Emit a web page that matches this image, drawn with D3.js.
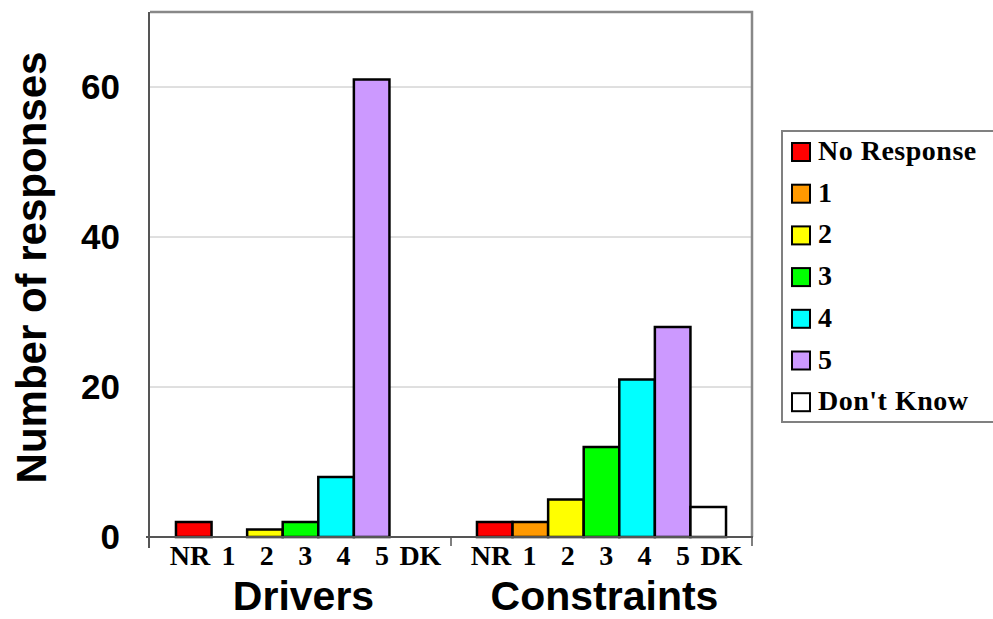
<!DOCTYPE html>
<html>
<head>
<meta charset="utf-8">
<script src="https://cdn.jsdelivr.net/npm/d3@7"></script>
<style>
  html, body { margin: 0; padding: 0; background: #fff; }
  svg { display: block; }
</style>
</head>
<body>
<svg id="chart" width="993" height="619"></svg>
<script>
// ---- data ----
const groups = ["Drivers", "Constraints"];
const categories = ["No Response", "1", "2", "3", "4", "5", "Don't Know"];
const tickLabels = ["NR", "1", "2", "3", "4", "5", "DK"];
const driversValues = [2, 0, 1, 2, 8, 61, 0];
const constraintsValues = [2, 2, 5, 12, 21, 28, 4];
const colors = ["#ff0000", "#ff9900", "#ffff00", "#00ff00", "#00ffff", "#cc99ff", "#ffffff"];
const yTicks = [0, 20, 40, 60];
const yMax = 70;
const yTitle = "Number of responses";

const seriesByGroup = { "Drivers": driversValues, "Constraints": constraintsValues };

// ---- layout ----
const svg = d3.select("#chart");
const plot = { left: 150, right: 752, top: 12, bottom: 537 };
const serif = "'Liberation Serif', 'Times New Roman', serif";
const sans = "'Liberation Sans', Arial, Helvetica, sans-serif";

const y = d3.scaleLinear().domain([0, yMax]).range([plot.bottom, plot.top]);
const x0 = d3.scaleBand().domain(groups).range([plot.left, plot.right]).paddingInner(0).paddingOuter(0);
const x1 = d3.scaleBand().domain(tickLabels).range([0, x0.bandwidth()]).paddingInner(0).paddingOuter(0.73);
const labelSlot = d3.scaleLinear().domain([0, 6]).range([40, 40 + 6 * 38.4]);

// gridlines
svg.append("g")
  .selectAll("line")
  .data(yTicks.filter(t => t > 0))
  .join("line")
  .attr("x1", plot.left).attr("x2", plot.right)
  .attr("y1", d => y(d)).attr("y2", d => y(d))
  .attr("stroke", "#c0c0c0").attr("stroke-width", 1);

// frame top and right
svg.append("path")
  .attr("d", `M${plot.left},${plot.top}H${plot.right}V${plot.bottom}`)
  .attr("fill", "none").attr("stroke", "#888").attr("stroke-width", 2.5);

// bars
groups.forEach(g => {
  const vals = seriesByGroup[g];
  const data = vals.map((v, i) => ({ v, i, key: tickLabels[i] })).filter(d => d.v > 0);
  svg.append("g")
    .attr("transform", `translate(${x0(g)},0)`)
    .selectAll("rect")
    .data(data)
    .join("rect")
    .attr("x", d => x1(d.key))
    .attr("width", x1.bandwidth())
    .attr("y", d => y(d.v))
    .attr("height", d => y(0) - y(d.v))
    .attr("fill", d => colors[d.i])
    .attr("stroke", "#000")
    .attr("stroke-width", 2.5);
});

// y axis line
svg.append("line")
  .attr("x1", plot.left - 1).attr("x2", plot.left - 1)
  .attr("y1", plot.top).attr("y2", plot.bottom + 11)
  .attr("stroke", "#555").attr("stroke-width", 2);

// x axis line + ticks
svg.append("line")
  .attr("x1", plot.left - 4).attr("x2", plot.right + 1)
  .attr("y1", plot.bottom).attr("y2", plot.bottom)
  .attr("stroke", "#555").attr("stroke-width", 2);
const boundaries = groups.map(g => x0(g)).concat([plot.right]);
svg.append("g").selectAll("line")
  .data(boundaries.slice(1))
  .join("line")
  .attr("x1", d => d).attr("x2", d => d)
  .attr("y1", plot.bottom).attr("y2", plot.bottom + 9)
  .attr("stroke", "#555").attr("stroke-width", 1.5);

// y tick labels
svg.append("g").selectAll("text")
  .data(yTicks)
  .join("text")
  .attr("x", 120)
  .attr("y", d => y(d) + 12)
  .attr("text-anchor", "end")
  .attr("font-family", sans)
  .attr("font-weight", "bold")
  .attr("font-size", 35)
  .text(d => d);

// y title
svg.append("text")
  .attr("transform", `translate(46,${(48 + 487) / 2}) rotate(-90)`)
  .attr("text-anchor", "middle")
  .attr("font-family", sans)
  .attr("font-weight", "bold")
  .attr("font-size", 42)
  .text(yTitle);

// x category labels
groups.forEach(g => {
  svg.append("g").selectAll("text")
    .data(tickLabels)
    .join("text")
    .attr("x", (d, i) => x0(g) + labelSlot(i))
    .attr("y", 565)
    .attr("text-anchor", "middle")
    .attr("font-family", serif)
    .attr("font-weight", "bold")
    .attr("font-size", 28)
    .text(d => d);
});

// group titles
svg.append("g").selectAll("text")
  .data(groups)
  .join("text")
  .attr("x", d => x0(d) + x0.bandwidth() / 2 + 3)
  .attr("y", 610)
  .attr("text-anchor", "middle")
  .attr("font-family", sans)
  .attr("font-weight", "bold")
  .attr("font-size", 41)
  .text(d => d);

// legend
const legend = svg.append("g");
legend.append("rect")
  .attr("x", 782).attr("y", 131)
  .attr("width", 212).attr("height", 291)
  .attr("fill", "#fff").attr("stroke", "#808080").attr("stroke-width", 2);
const rowY = d3.scaleLinear().domain([0, 6]).range([152, 152 + 6 * 41.7]);
const items = legend.selectAll("g.item")
  .data(categories)
  .join("g").attr("class", "item")
  .attr("transform", (d, i) => `translate(0,${rowY(i)})`);
items.append("rect")
  .attr("x", 792).attr("y", -9)
  .attr("width", 18).attr("height", 18)
  .attr("fill", (d, i) => colors[i])
  .attr("stroke", "#000").attr("stroke-width", 2);
items.append("text")
  .attr("x", 818).attr("y", 8)
  .attr("font-family", serif)
  .attr("font-weight", "bold")
  .attr("font-size", 28)
  .attr("letter-spacing", 0.5)
  .text(d => d);
</script>
</body>
</html>
